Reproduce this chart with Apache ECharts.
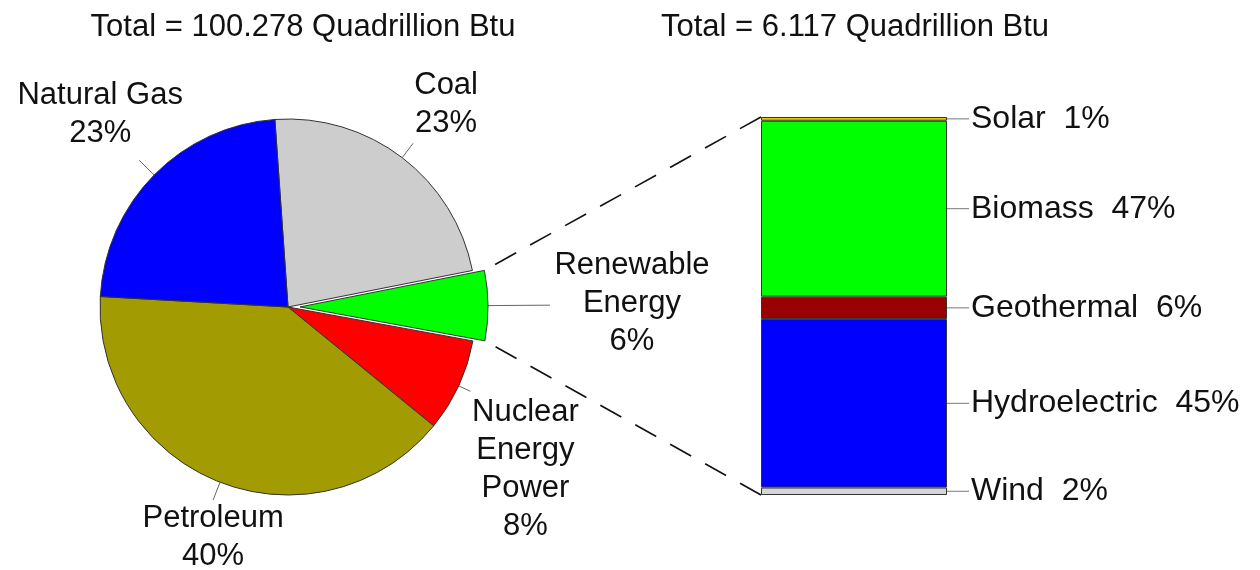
<!DOCTYPE html>
<html>
<head>
<meta charset="utf-8">
<script src="https://cdn.jsdelivr.net/npm/echarts@6/dist/echarts.min.js"></script>
<style>
  html, body { margin: 0; padding: 0; background: #fff; }
  #chart { width: 1260px; height: 570px; }
</style>
</head>
<body>
<div id="chart"></div>
<script>
const titles = ['Total = 100.278 Quadrillion Btu', 'Total = 6.117 Quadrillion Btu']

// left pie: US energy consumption by source (%)
const sources = ['Coal', 'Renewable\nEnergy', 'Nuclear\nEnergy\nPower', 'Petroleum', 'Natural Gas']
const sourceShares = [23, 6, 8, 40, 23]
const sourceColors = ['#cdcdcd', '#00ff00', '#ff0000', '#a39b02', '#0000ff']

// right stacked bar: renewable breakdown (%), bottom to top
const renewables = ['Wind', 'Hydroelectric', 'Geothermal', 'Biomass', 'Solar']
const renewableShares = [2, 45, 6, 47, 1]
const renewableColors = ['#d6d6d6', '#0000ff', '#990000', '#00ff00', '#e8cc00']

const FONT = 'Arial, "Liberation Sans", sans-serif'

// leader line lengths and label placement relative to the leader end
const labelLineLengths = [18, 62, 13, 19, 21]
const labelOffsets = [[33, -39], [82, -2], [55, 78], [0, 37], [-39, -46]]

const PIE_CENTER = [288, 307]
const PIE_START = 94
const EXPLODE = 12
const explodeIndex = sources.findIndex(s => s.startsWith('Renewable'))

const chart = echarts.init(document.getElementById('chart'))

const sum = (arr) => arr.reduce((a, b) => a + b, 0)
const total = sum(renewableShares)

// pull the renewable slice out along its middle angle
const shareBefore = sum(sourceShares.slice(0, explodeIndex))
const midDeg = PIE_START - (shareBefore + sourceShares[explodeIndex] / 2) / sum(sourceShares) * 360
const midRad = midDeg * Math.PI / 180
const explodedCenter = [PIE_CENTER[0] + EXPLODE * Math.cos(midRad), PIE_CENTER[1] - EXPLODE * Math.sin(midRad)]

const sliceLayout = (seriesIndex, i) => chart.getModel().getSeriesByIndex(seriesIndex).getData().getItemLayout(i)

const hidden = {
  itemStyle: { color: 'rgba(0,0,0,0)', borderWidth: 0 },
  label: { show: false },
  labelLine: { show: false }
}

const makePie = (center, visible) => ({
  type: 'pie',
  center,
  radius: 188,
  startAngle: PIE_START,
  clockwise: true,
  avoidLabelOverlap: false,
  silent: true,
  emphasis: { disabled: true },
  itemStyle: { borderColor: '#333', borderWidth: 1 },
  label: {
    show: true,
    position: 'outside',
    fontFamily: FONT,
    fontSize: 31,
    lineHeight: 38,
    color: '#111',
    formatter: (p) => p.name + '\n' + p.value + '%'
  },
  labelLine: { show: true, length: 15, length2: 0, lineStyle: { color: '#666', width: 1 } },
  labelLayout: (params) => {
    const i = params.dataIndex
    const lay = sliceLayout(params.seriesIndex, i)
    if (!lay) return {}
    const mid = (lay.startAngle + lay.endAngle) / 2
    const c = Math.cos(mid)
    const s = Math.sin(mid)
    const start = [lay.cx + lay.r * c, lay.cy + lay.r * s]
    const len = labelLineLengths[i]
    const end = [start[0] + c * len, start[1] + s * len]
    const off = labelOffsets[i]
    return {
      x: end[0] + off[0],
      y: end[1] + off[1],
      align: 'center',
      verticalAlign: 'middle',
      labelLinePoints: [start, end]
    }
  },
  data: sources.map((name, i) => Object.assign(
    { name, value: sourceShares[i] },
    visible(i) ? { itemStyle: { color: sourceColors[i] } } : hidden
  ))
})

const pieSeries = [
  makePie(PIE_CENTER, (i) => i !== explodeIndex),
  makePie(explodedCenter, (i) => i === explodeIndex)
]

const barSeries = renewables.map((name, i) => ({
  type: 'bar',
  name,
  stack: 'renew',
  barWidth: '100%',
  silent: true,
  emphasis: { disabled: true },
  itemStyle: { color: renewableColors[i], borderColor: '#333', borderWidth: 1 },
  label: {
    show: true,
    position: 'right',
    distance: 0,
    formatter: (p) => '{l|}{t|' + p.seriesName + '  ' + p.value + '%}',
    rich: {
      l: { width: 22, height: 1, backgroundColor: '#777' },
      t: { fontFamily: FONT, fontSize: 32, color: '#111', padding: [0, 0, 0, 2] }
    }
  },
  data: [renewableShares[i]]
}))

const titleStyle = { fontFamily: FONT, fontSize: 31, fontWeight: 'normal', color: '#111' }

chart.setOption({
  animation: false,
  backgroundColor: '#fff',
  title: [
    { text: titles[0], left: 303, top: 12, textAlign: 'center', padding: 0, textStyle: titleStyle },
    { text: titles[1], left: 855, top: 12, textAlign: 'center', padding: 0, textStyle: titleStyle }
  ],
  grid: { left: 761, top: 117, width: 186, height: 378 },
  xAxis: { type: 'category', data: ['Renewable'], show: false },
  yAxis: { type: 'value', min: 0, max: total, show: false },
  series: pieSeries.concat(barSeries)
})

// dashed connectors from the exploded slice to the bar corners
const drawConnectors = () => {
  const model = chart.getModel()
  const lay = sliceLayout(1, explodeIndex)
  const a1 = [lay.cx + lay.r * Math.cos(lay.startAngle), lay.cy + lay.r * Math.sin(lay.startAngle)]
  const a2 = [lay.cx + lay.r * Math.cos(lay.endAngle), lay.cy + lay.r * Math.sin(lay.endAngle)]

  const firstBar = pieSeries.length
  const topRect = model.getSeriesByIndex(firstBar + barSeries.length - 1).getData().getItemLayout(0)
  const botRect = model.getSeriesByIndex(firstBar).getData().getItemLayout(0)
  const b1 = [topRect.x, Math.min(topRect.y, topRect.y + topRect.height)]
  const b2 = [botRect.x, Math.max(botRect.y, botRect.y + botRect.height)]

  const upper = a1[1] < a2[1] ? a1 : a2
  const lower = a1[1] < a2[1] ? a2 : a1
  // draw from the bar back to the slice so the dash pattern meets the bar corner
  const dashStyle = { stroke: '#111', lineWidth: 1.6, lineDash: [24, 16] }
  chart.setOption({
    graphic: [
      { type: 'line', shape: { x1: b1[0], y1: b1[1], x2: upper[0], y2: upper[1] }, style: dashStyle, silent: true },
      { type: 'line', shape: { x1: b2[0], y1: b2[1], x2: lower[0], y2: lower[1] }, style: dashStyle, silent: true }
    ]
  })
}

drawConnectors()
</script>
</body>
</html>
